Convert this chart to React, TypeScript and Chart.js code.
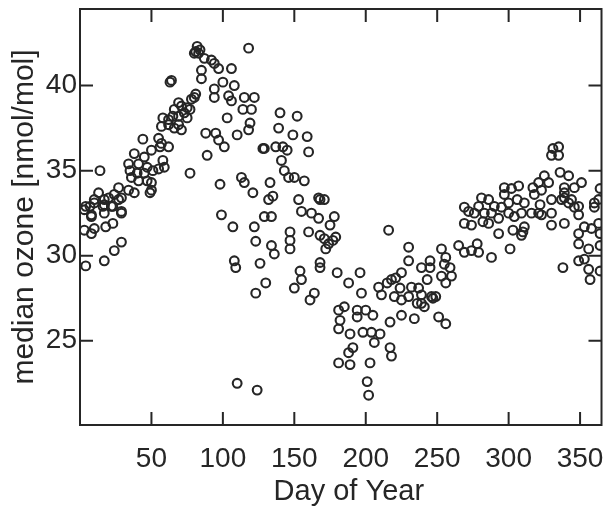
import React, { useEffect, useRef } from "react";
import { Chart, registerables } from "chart.js";

Chart.register(...registerables);

const dayOfYear: number[] = [
  3, 3, 4, 4, 7, 8, 8, 8, 10, 10, 10, 13, 14, 16, 17, 17, 17, 17, 18, 20, 22, 23, 23, 24, 24, 27, 27, 29, 29, 29, 29,
  34, 34, 35, 36, 38, 38, 40, 41, 41, 44, 45, 45, 47, 47, 49, 50, 50, 50, 51,
  55, 57, 62, 56, 55, 58, 59, 57, 62, 66, 71, 69, 58, 62, 65, 69, 75, 69, 71, 75, 77, 73, 66, 81, 80, 78, 63, 64, 77,
  81, 82, 83, 80, 84, 87, 92, 94, 97, 85, 85,
  106, 100, 108, 94, 94, 104, 106, 115, 122, 114, 120, 103, 119, 118, 118,
  140, 152, 139, 149, 159, 88, 95, 97, 101, 110,
  128, 129, 137, 142, 145, 160, 89, 141, 143, 146, 157, 150, 113, 115, 121, 98, 133, 135, 132,
  153, 167, 171, 168, 99, 129, 134, 155, 162, 167, 178,
  107, 122, 123, 108, 109, 126, 130, 123, 134, 136, 147, 147, 147, 160,
  168, 171, 174, 177, 175, 172, 168, 168, 180, 154, 155, 150, 161, 164, 181, 181, 181, 110, 124,
  216, 179, 188, 196, 197, 185, 182, 194, 200, 194, 205, 198, 204, 210, 206, 189, 188, 191, 189, 203, 201, 202, 217, 218, 217,
  209, 211, 215, 218, 221, 225, 224, 220, 225, 232, 230, 237, 239, 236, 234, 225, 241, 246, 249, 251, 256, 239, 245, 243, 245,
  230, 230, 253, 256, 253, 260, 256, 265, 269, 274, 278, 279, 259, 255, 239, 247,
  269, 272, 276, 269, 274, 282, 286, 288, 293, 295, 300, 304, 303, 310, 309, 311, 316, 323, 330, 339, 342, 346, 349, 353,
  349, 360, 363, 364, 356, 358, 364, 338, 349, 353, 356, 357, 364, 301, 288, 293,
  331, 335, 330, 335, 336, 342, 351, 346, 325, 321, 328, 317, 323, 297, 302, 307, 339, 339, 339, 364, 363, 360,
  281, 286, 279, 290, 297, 306, 311, 318, 322, 330, 337, 344, 349, 283, 300, 309, 321, 330, 349,
];

const medianOzone: number[] = [
  32.7, 31.5, 32.9, 29.4, 32.9, 32.4, 32.3, 31.3, 33.3, 33.1, 31.6, 33.7, 35.0, 32.9, 33.3, 33.0, 32.5, 29.7, 31.7, 33.4, 32.9, 32.9, 31.9, 33.6, 30.3, 34.0, 33.3, 33.4, 32.6, 32.5, 30.8,
  33.85, 35.4, 35.0, 34.6, 33.7, 36.0, 34.85, 35.4, 34.4, 36.85, 35.8, 34.85, 35.2, 34.4, 33.7, 33.85, 36.2, 34.3, 35.0,
  36.9, 36.6, 36.4, 36.4, 35.1, 35.6, 35.2, 37.6, 37.7, 37.5, 37.4, 37.7, 38.1, 38.0, 38.2, 38.2, 38.1, 39.0, 38.8, 38.7, 38.6, 38.4, 38.6, 39.5, 39.3, 39.2, 40.2, 40.3, 34.85,
  42.0, 42.3, 41.9, 41.9, 42.1, 41.6, 41.5, 41.3, 41.0, 40.9, 40.4,
  41.0, 40.2, 40.0, 39.8, 39.3, 39.4, 39.1, 39.3, 39.3, 38.6, 38.6, 38.1, 37.8, 37.4, 42.2,
  38.4, 38.2, 37.5, 37.1, 37.0, 37.2, 37.2, 36.8, 36.4, 37.1,
  36.3, 36.3, 36.4, 36.4, 36.2, 36.1, 35.9, 35.6, 35.0, 34.6, 34.4, 34.6, 34.6, 34.3, 33.7, 34.2, 34.3, 33.5, 33.3,
  33.3, 33.4, 33.3, 33.3, 32.4, 32.3, 32.3, 32.6, 32.5, 32.2, 32.3,
  31.7, 31.7, 30.85, 29.7, 29.3, 29.55, 28.4, 27.8, 30.6, 30.1, 31.4, 30.9, 30.4, 31.4,
  31.2, 31.0, 30.7, 30.9, 31.8, 30.4, 29.6, 29.3, 29.0, 29.1, 28.6, 28.1, 27.4, 27.8, 26.8, 25.7, 23.7, 22.5, 22.1,
  31.5, 31.1, 28.4, 29.0, 27.8, 27.0, 26.2, 26.8, 26.8, 26.4, 26.5, 25.5, 25.5, 25.4, 24.9, 25.4, 24.3, 24.6, 23.6, 23.7, 22.6, 21.8, 24.6, 24.1, 26.1,
  28.15, 27.7, 28.4, 28.6, 28.7, 29.0, 28.1, 27.6, 27.4, 28.15, 27.6, 28.1, 27.7, 27.2, 26.3, 26.5, 27.0, 27.6, 27.6, 26.4, 26.0, 29.3, 29.7, 28.6, 29.3,
  30.5, 29.7, 30.4, 29.9, 28.8, 28.8, 28.4, 30.6, 30.2, 30.3, 30.7, 30.2, 29.3, 29.5, 27.2, 27.5,
  32.85, 32.6, 32.5, 31.9, 31.8, 32.0, 31.9, 32.5, 32.2, 32.85, 33.1, 32.3, 31.5, 31.4, 31.2, 31.7, 32.5, 32.4, 31.8, 31.9, 33.1, 32.85, 31.3, 31.7,
  30.7, 32.85, 31.9, 31.3, 30.4, 31.6, 30.6, 29.3, 29.7, 29.8, 29.2, 28.6, 29.1, 30.4, 29.9, 31.3,
  36.3, 36.4, 35.9, 35.9, 34.9, 34.7, 34.3, 34.0, 34.7, 34.3, 34.3, 34.0, 33.85, 34.0, 33.95, 34.1, 34.0, 33.4, 33.7, 33.95, 33.3, 33.1,
  33.4, 33.3, 32.9, 32.9, 33.6, 33.3, 33.1, 33.6, 33.0, 33.3, 33.3, 33.3, 32.9, 32.5, 32.5, 32.5, 32.5, 32.5, 32.4,
];

const xTickValues: number[] = [50, 100, 150, 200, 250, 300, 350];
const yTickValues: number[] = [25, 30, 35, 40];

const FONT = "'Liberation Sans', Arial, Helvetica, sans-serif";
const INK = "#262626";

const framePlugin = {
  id: "frameTicks",
  afterDraw(chart: any) {
    const { ctx, chartArea, scales } = chart;
    const { left, right, top, bottom } = chartArea;
    const L = 13;
    ctx.save();
    ctx.strokeStyle = INK;
    ctx.lineWidth = 2;
    ctx.strokeRect(left, top, right - left, bottom - top);
    ctx.beginPath();
    for (const v of xTickValues) {
      const px = scales.x.getPixelForValue(v);
      ctx.moveTo(px, bottom);
      ctx.lineTo(px, bottom - L);
      ctx.moveTo(px, top);
      ctx.lineTo(px, top + L);
    }
    for (const v of yTickValues) {
      const py = scales.y.getPixelForValue(v);
      ctx.moveTo(left, py);
      ctx.lineTo(left + L, py);
      ctx.moveTo(right, py);
      ctx.lineTo(right - L, py);
    }
    ctx.stroke();
    ctx.restore();
  },
};

export default function App() {
  const ref = useRef<HTMLCanvasElement | null>(null);

  useEffect(() => {
    document.body.style.margin = "0";
    document.body.style.background = "#ffffff";
    const canvas = ref.current;
    if (!canvas) return;
    const points = dayOfYear.map((d, i) => ({ x: d, y: medianOzone[i] }));
    const chart = new Chart(canvas, {
      type: "scatter",
      data: {
        datasets: [
          {
            data: points,
            pointStyle: "circle",
            pointRadius: 4.4,
            pointBorderWidth: 2.1,
            borderColor: INK,
            backgroundColor: "rgba(0,0,0,0)",
            pointBackgroundColor: "rgba(0,0,0,0)",
            pointBorderColor: INK,
          } as any,
        ],
      },
      options: {
        animation: false,
        responsive: false,
        maintainAspectRatio: false,
        layout: { padding: { top: 9, right: 5, left: 0, bottom: 0 } },
        plugins: { legend: { display: false }, tooltip: { enabled: false } },
        scales: {
          x: {
            type: "linear",
            min: 0,
            max: 365,
            afterBuildTicks: (s: any) => {
              s.ticks = xTickValues.map((v) => ({ value: v }));
            },
            afterFit: (s: any) => {
              s.height = 91;
              s.paddingLeft = 0;
              s.paddingRight = 0;
            },
            grid: { display: false, drawTicks: false },
            border: { display: false },
            ticks: {
              autoSkip: false,
              maxRotation: 0,
              padding: 17,
              color: INK,
              font: { family: FONT, size: 28 },
            },
            title: {
              display: true,
              text: "  Day of Year",
              color: INK,
              font: { family: FONT, size: 29 },
              padding: { top: 0, bottom: 7 },
            },
          },
          y: {
            type: "linear",
            min: 20.05,
            max: 44.5,
            afterBuildTicks: (s: any) => {
              s.ticks = yTickValues.map((v) => ({ value: v }));
            },
            afterFit: (s: any) => {
              s.width = 80;
              s.paddingTop = 0;
              s.paddingBottom = 0;
            },
            grid: { display: false, drawTicks: false },
            border: { display: false },
            ticks: {
              autoSkip: false,
              padding: 3,
              color: INK,
              font: { family: FONT, size: 28 },
            },
            title: {
              display: true,
              text: "median ozone [nmol/mol]",
              color: INK,
              font: { family: FONT, size: 30 },
              padding: { top: 7, bottom: 0 },
            },
          },
        },
      },
      plugins: [framePlugin],
    });
    return () => chart.destroy();
  }, []);

  return <canvas ref={ref} width={608} height={516} style={{ display: "block" }} />;
}
